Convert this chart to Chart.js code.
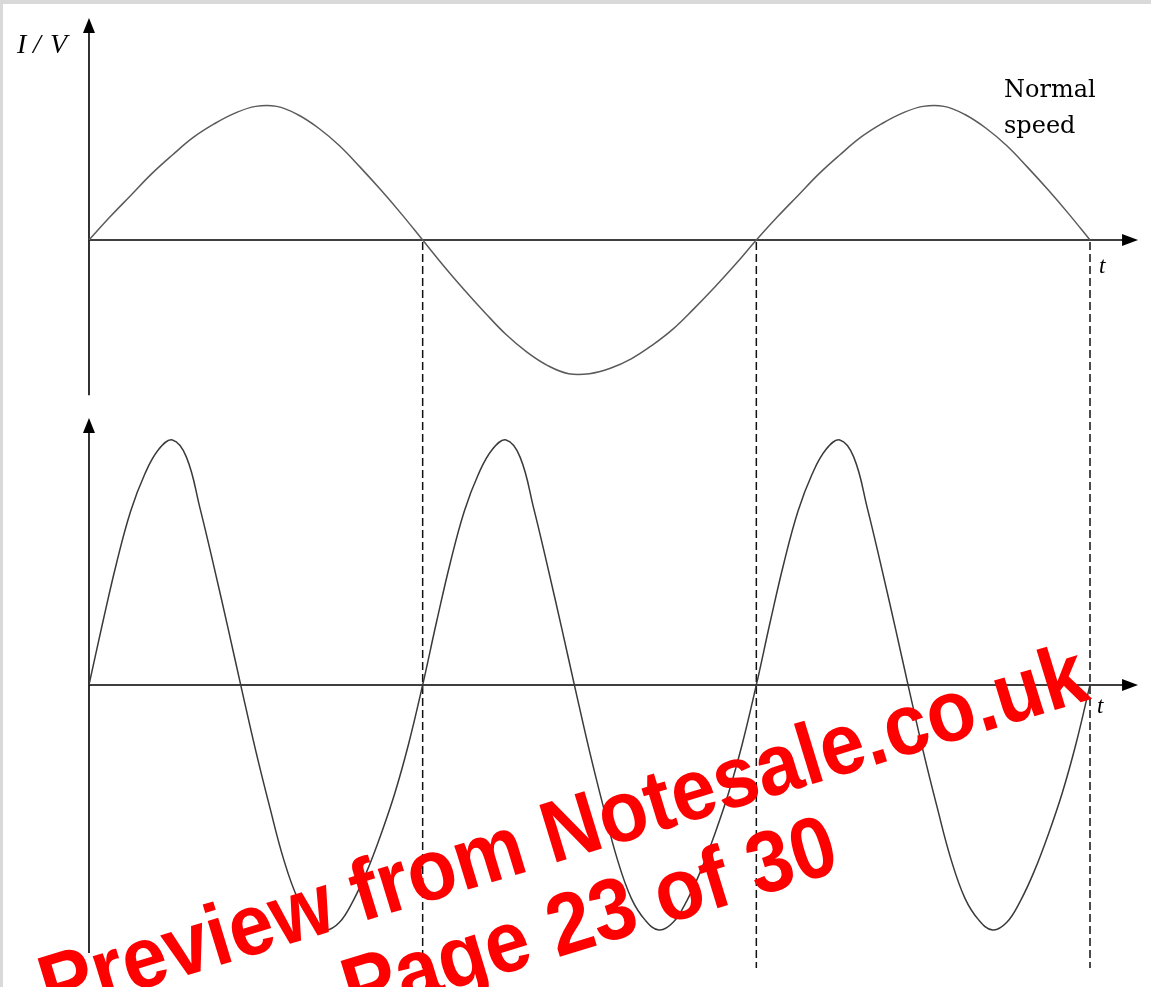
<!DOCTYPE html>
<html>
<head>
<meta charset="utf-8">
<script src="https://cdn.jsdelivr.net/npm/chart.js@4/dist/chart.umd.min.js"></script>
<style>
  body { margin: 0; background: #fff; }
  canvas { display: block; }
</style>
</head>
<body>
<canvas id="waves" width="1151" height="987"></canvas>
<script>
'use strict'

// top trace: normal speed (half period = 1 time unit)
const tTop = [0, 0.0625, 0.125, 0.1875, 0.25, 0.3125, 0.375, 0.4375, 0.5, 0.5625, 0.625, 0.6875, 0.75, 0.8125, 0.875, 0.9375,
              1, 1.0625, 1.125, 1.1875, 1.25, 1.3125, 1.375, 1.4375, 1.5, 1.5625, 1.625, 1.6875, 1.75, 1.8125, 1.875, 1.9375,
              2, 2.0625, 2.125, 2.1875, 2.25, 2.3125, 2.375, 2.4375, 2.5, 2.5625, 2.625, 2.6875, 2.75, 2.8125, 2.875, 2.9375, 3];
const vTop = [0, 0.17, 0.33, 0.49, 0.63, 0.76, 0.86, 0.94, 0.99, 0.99, 0.93, 0.83, 0.70, 0.54, 0.37, 0.19,
              0, -0.19, -0.37, -0.54, -0.70, -0.83, -0.93, -0.99, -0.99, -0.95, -0.88, -0.78, -0.66, -0.51, -0.35, -0.18,
              0, 0.17, 0.33, 0.49, 0.63, 0.76, 0.86, 0.94, 0.99, 0.99, 0.93, 0.83, 0.70, 0.54, 0.37, 0.19, 0];

// bottom trace: faster, one full period per time unit
const tBottom = [0, 0.042, 0.083, 0.125, 0.167, 0.208, 0.25, 0.292, 0.333, 0.375, 0.417, 0.458,
                 0.5, 0.542, 0.583, 0.625, 0.667, 0.708, 0.75, 0.792, 0.833, 0.875, 0.917, 0.958,
                 1, 1.042, 1.083, 1.125, 1.167, 1.208, 1.25, 1.292, 1.333, 1.375, 1.417, 1.458,
                 1.5, 1.542, 1.583, 1.625, 1.667, 1.708, 1.75, 1.792, 1.833, 1.875, 1.917, 1.958,
                 2, 2.042, 2.083, 2.125, 2.167, 2.208, 2.25, 2.292, 2.333, 2.375, 2.417, 2.458,
                 2.5, 2.542, 2.583, 2.625, 2.667, 2.708, 2.75, 2.792, 2.833, 2.875, 2.917, 2.958, 3];
const vBottom = [0, 0.26, 0.50, 0.71, 0.86, 0.96, 1, 0.93, 0.72, 0.48, 0.23, -0.02,
                 -0.27, -0.50, -0.71, -0.87, -0.96, -1, -0.97, -0.88, -0.76, -0.61, -0.44, -0.24,
                 0, 0.26, 0.50, 0.71, 0.86, 0.96, 1, 0.93, 0.72, 0.48, 0.23, -0.02,
                 -0.27, -0.50, -0.71, -0.87, -0.96, -1, -0.97, -0.88, -0.76, -0.61, -0.44, -0.24,
                 0, 0.26, 0.50, 0.71, 0.86, 0.96, 1, 0.93, 0.72, 0.48, 0.23, -0.02,
                 -0.27, -0.50, -0.71, -0.87, -0.96, -1, -0.97, -0.88, -0.76, -0.61, -0.44, -0.24, 0];

const dashTimes = [1, 2, 3];
const yLabel = ['I', '/', 'V'];
const tLabel = 't';
const noteLines = ['Normal', 'speed'];
const watermark = ['Preview from Notesale.co.uk', 'Page 23 of 30'];

function toPoints(ts, vs) {
    return ts.map((t, i) => ({x: t, y: vs[i]}));
}

function arrow(ctx, x, y, dir) {
    // dir: 'up' or 'right'
    ctx.beginPath();
    if (dir === 'up') {
        ctx.moveTo(x, y);
        ctx.lineTo(x - 6, y + 15);
        ctx.lineTo(x + 6, y + 15);
    } else {
        ctx.moveTo(x, y);
        ctx.lineTo(x - 16, y - 6);
        ctx.lineTo(x - 16, y + 6);
    }
    ctx.closePath();
    ctx.fill();
}

const decorations = {
    id: 'decorations',
    beforeDatasetsDraw(chart) {
        const ctx = chart.ctx;
        const xs = chart.scales.x;
        const yt = chart.scales.yTop;
        const yb = chart.scales.yBot;
        const x0 = xs.getPixelForValue(0);
        const xEnd = xs.getPixelForValue(3.144);

        ctx.save();
        ctx.fillStyle = '#d9d9d9';
        ctx.fillRect(0, 0, chart.width, 4);
        ctx.fillRect(0, 0, 3, chart.height);

        ctx.strokeStyle = '#000';
        ctx.fillStyle = '#000';
        ctx.lineWidth = 1.6;

        // top axes
        ctx.beginPath();
        ctx.moveTo(x0, yt.getPixelForValue(-1.15));
        ctx.lineTo(x0, yt.getPixelForValue(1.55));
        ctx.moveTo(x0, yt.getPixelForValue(0));
        ctx.lineTo(xEnd - 10, yt.getPixelForValue(0));
        ctx.stroke();
        arrow(ctx, x0, yt.getPixelForValue(1.644), 'up');
        arrow(ctx, xEnd, yt.getPixelForValue(0), 'right');

        // bottom axes
        ctx.beginPath();
        ctx.moveTo(x0, yb.getPixelForValue(-1.094));
        ctx.lineTo(x0, yb.getPixelForValue(1.04));
        ctx.moveTo(x0, yb.getPixelForValue(0));
        ctx.lineTo(xEnd - 10, yb.getPixelForValue(0));
        ctx.stroke();
        arrow(ctx, x0, yb.getPixelForValue(1.09), 'up');
        arrow(ctx, xEnd, yb.getPixelForValue(0), 'right');

        // dashed period markers
        ctx.lineWidth = 1.5;
        ctx.strokeStyle = '#111';
        ctx.setLineDash([8, 4]);
        dashTimes.forEach(t => {
            const px = xs.getPixelForValue(t);
            ctx.beginPath();
            ctx.moveTo(px, yt.getPixelForValue(0) + 2);
            ctx.lineTo(px, yb.getPixelForValue(-1.155));
            ctx.stroke();
        });
        ctx.setLineDash([]);

        // texts
        ctx.fillStyle = '#000';
        ctx.textBaseline = 'alphabetic';
        ctx.font = 'italic 28px "Liberation Serif", serif';
        ctx.fillText(yLabel[0], 17, 53);
        ctx.fillText(yLabel[1], 33, 53);
        ctx.fillText(yLabel[2], 50, 53);
        ctx.font = 'italic 23px "Liberation Serif", serif';
        ctx.fillText(tLabel, 1099, 273);
        ctx.fillText(tLabel, 1097, 713);
        ctx.font = '24px "DejaVu Serif", serif';
        ctx.fillText(noteLines[0], 1004, 97);
        ctx.fillText(noteLines[1], 1004, 133);
        ctx.restore();
    },
    afterDraw(chart) {
        const ctx = chart.ctx;
        ctx.save();
        ctx.translate(571, 858);
        ctx.rotate(-17 * Math.PI / 180);
        ctx.scale(0.92, 1);
        ctx.fillStyle = '#ff0000';
        ctx.font = 'bold 87px "Liberation Sans", Arial, sans-serif';
        ctx.textAlign = 'center';
        ctx.fillText(watermark[0], 0, 0);
        ctx.fillText(watermark[1], 0, 91);
        ctx.restore();
    }
};

new Chart(document.getElementById('waves'), {
    type: 'line',
    data: {
        datasets: [
            {
                data: toPoints(tTop, vTop),
                yAxisID: 'yTop',
                borderColor: '#5a5a5a',
                borderWidth: 1.5,
                pointRadius: 0,
                tension: 0.4
            },
            {
                data: toPoints(tBottom, vBottom),
                yAxisID: 'yBot',
                borderColor: '#3a3a3a',
                borderWidth: 1.5,
                pointRadius: 0,
                tension: 0.4
            }
        ]
    },
    options: {
        responsive: false,
        animation: false,
        layout: {padding: 0},
        plugins: {
            legend: {display: false},
            tooltip: {enabled: false}
        },
        scales: {
            x: {type: 'linear', min: -0.2667, max: 3.1828, display: false},
            yTop: {type: 'linear', min: -5.533, max: 1.778, display: false},
            yBot: {type: 'linear', min: -1.233, max: 2.796, display: false}
        }
    },
    plugins: [decorations]
});
</script>
</body>
</html>
